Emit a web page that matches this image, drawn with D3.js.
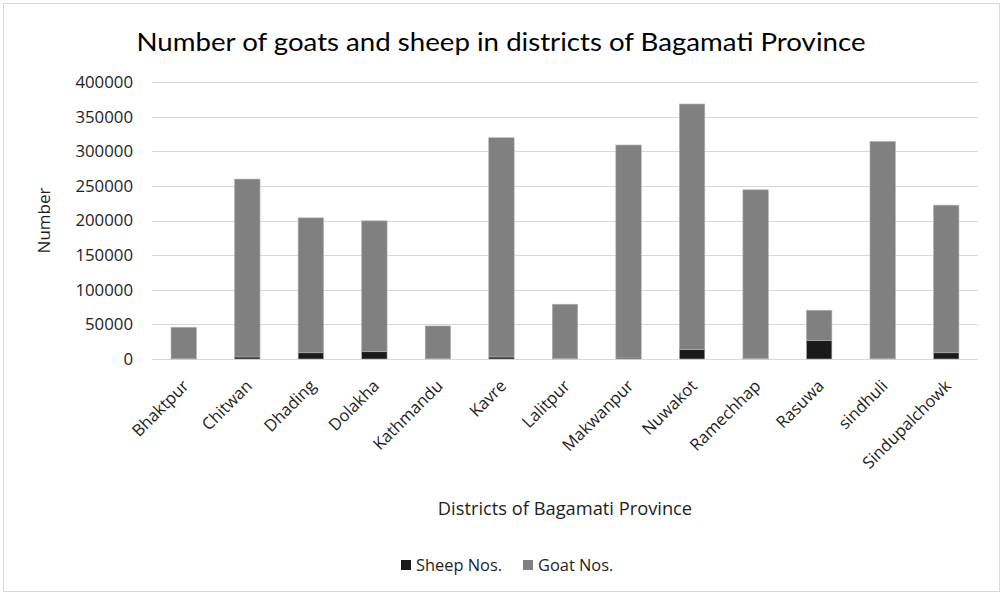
<!DOCTYPE html>
<html>
<head>
<meta charset="utf-8">
<script src="https://cdn.jsdelivr.net/npm/d3@7"></script>
<style>
  body { margin: 0; background: #fff; }
  svg { display: block; }
</style>
</head>
<body>
<script>
// chart values
const districts = ['Bhaktpur', 'Chitwan', 'Dhading', 'Dolakha', 'Kathmandu', 'Kavre', 'Lalitpur',
  'Makwanpur', 'Nuwakot', 'Ramechhap', 'Rasuwa', 'sindhuli', 'Sindupalchowk'];
const sheepNos = [500, 3000, 9000, 10500, 500, 3000, 1000, 1500, 13500, 1000, 26500, 500, 9000];
const goatNos = [45300, 256800, 194800, 189000, 47200, 316500, 78100, 307500, 354700, 243300, 43900, 313700, 213200];
const yTicks = [0, 50000, 100000, 150000, 200000, 250000, 300000, 350000, 400000];
const seriesNames = ['Sheep Nos.', 'Goat Nos.'];

const width = 1001,
  height = 594,
  marginTop = 82,
  marginRight = 23,
  marginBottom = 235,
  marginLeft = 152;

const colors = ['#1a1a1a', '#808080'];
const font = '"Open Sans", sans-serif';
const ink = '#1e1e1e';

const table = districts.map((d, i) => ({district: d, sheep: sheepNos[i], goat: goatNos[i]}));
const stack = d3.stack().keys(['sheep', 'goat'])(table);

const x = d3.scaleBand()
  .domain(districts)
  .range([marginLeft, width - marginRight])
  .paddingInner(0.6)
  .paddingOuter(0.3);

const y = d3.scaleLinear()
  .domain([0, 400000])
  .range([height - marginBottom, marginTop]);

const svg = d3.select('body').append('svg')
  .attr('width', width)
  .attr('height', height)
  .attr('viewBox', [0, 0, width, height])
  .style('font-family', font);

svg.append('rect')
  .attr('x', 3.5).attr('y', 3.5)
  .attr('width', width - 5).attr('height', height - 6)
  .attr('fill', '#fff')
  .attr('stroke', '#d9d9d9');

// gridlines
svg.append('g')
  .selectAll('line')
  .data(yTicks)
  .join('line')
  .attr('x1', marginLeft)
  .attr('x2', width - marginRight)
  .attr('y1', d => Math.round(y(d)) + 0.5)
  .attr('y2', d => Math.round(y(d)) + 0.5)
  .attr('stroke', '#d9d9d9');

// y axis labels
const yAxis = g => g
  .attr('transform', `translate(${marginLeft},0)`)
  .call(d3.axisLeft(y).tickValues(yTicks).tickSize(0).tickPadding(19).tickFormat(d3.format('d')))
  .call(g => g.select('.domain').remove())
  .call(g => g.selectAll('text')
    .attr('font-size', 16.8)
    .attr('font-family', font)
    .attr('fill', ink));
svg.append('g').call(yAxis);

// stacked bars
svg.append('g')
  .selectAll('g')
  .data(stack)
  .join('g')
  .attr('fill', (d, i) => colors[i])
  .selectAll('rect')
  .data(d => d)
  .join('rect')
  .attr('x', d => x(d.data.district))
  .attr('y', d => y(d[1]))
  .attr('width', x.bandwidth())
  .attr('height', d => y(d[0]) - y(d[1]))
  .attr('stroke', '#b0b0b0')
  .attr('stroke-width', 0.6);

// x axis labels
const xAxis = g => g
  .attr('transform', `translate(0,${height - marginBottom})`)
  .call(d3.axisBottom(x).tickSize(0).tickPadding(0))
  .call(g => g.select('.domain').remove())
  .call(g => g.selectAll('text')
    .attr('font-size', 16.6)
    .attr('font-family', font)
    .attr('fill', ink)
    .attr('text-anchor', 'end')
    .attr('dy', 0)
    .attr('transform', 'translate(6,28) rotate(-45)'));
svg.append('g').call(xAxis);

// title
svg.append('text')
  .attr('x', 501)
  .attr('y', 51)
  .attr('text-anchor', 'middle')
  .attr('font-family', 'Lato, sans-serif')
  .attr('font-size', 25)
  .attr('fill', '#000')
  .attr('textLength', 729)
  .attr('lengthAdjust', 'spacingAndGlyphs')
  .text('Number of goats and sheep in districts of Bagamati Province');

// axis titles
svg.append('text')
  .attr('transform', `translate(50,${(y(0) + y(400000)) / 2}) rotate(-90)`)
  .attr('text-anchor', 'middle')
  .attr('font-size', 17)
  .attr('fill', ink)
  .text('Number');

svg.append('text')
  .attr('x', 565)
  .attr('y', 515)
  .attr('text-anchor', 'middle')
  .attr('font-size', 18.3)
  .attr('fill', ink)
  .text('Districts of Bagamati Province');

// legend
const legend = svg.append('g')
  .selectAll('g')
  .data(seriesNames)
  .join('g')
  .attr('transform', (d, i) => `translate(${[401, 523][i]},560)`);
legend.append('rect')
  .attr('width', 10).attr('height', 10)
  .attr('fill', (d, i) => colors[i]);
legend.append('text')
  .attr('x', 15)
  .attr('y', 10.5)
  .attr('font-size', 16.4)
  .attr('fill', ink)
  .text(d => d);
</script>
</body>
</html>
